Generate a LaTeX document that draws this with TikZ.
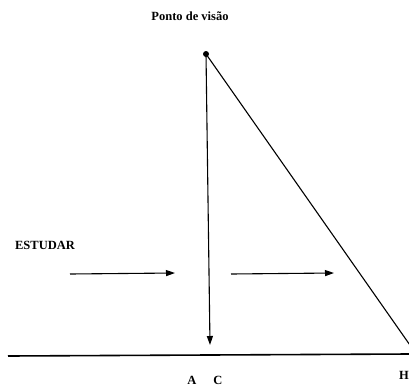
\documentclass[tikz,border=0pt]{standalone}
\usepackage{fontspec}
\setmainfont{Liberation Serif}
\usetikzlibrary{arrows.meta}
\begin{document}
\begin{tikzpicture}[x=1pt,y=-1pt,
  lbl/.style={font=\bfseries\fontsize{12.5}{14}\selectfont, inner sep=0pt},
  ln/.style={line width=1.1pt, black},
  arr/.style={ln, -{Triangle[length=9pt,width=6pt]}}]
\useasboundingbox (0,0) rectangle (409,386);
% labels
\node[lbl] (pv) at (190,16) {Ponto de visão};
\node[lbl] (est) at (45,245) {ESTUDAR};
\node[lbl] (a) at (192,380) {A};
\node[lbl] (c) at (218,380) {C};
\node[lbl, anchor=east] (h) at (409,375) {H};
% points
\coordinate (o) at (206,54);
\coordinate (ov) at (210,345);
\coordinate (hd) at (412,348);
\coordinate (gl) at (8,356);
\coordinate (gr) at (409,354);
\coordinate (a1s) at (70,274);
\coordinate (a1e) at (175,273);
\coordinate (a2s) at (231,274);
\coordinate (a2e) at (334,273);
% drawing
\fill (o) circle (3pt);
\draw[arr] (o) -- (ov);
\draw[ln] (o) -- (hd);
\draw[line width=1.6pt] (gl) -- (gr);
\draw[arr] (a1s) -- (a1e);
\draw[arr] (a2s) -- (a2e);
\end{tikzpicture}
\end{document}
